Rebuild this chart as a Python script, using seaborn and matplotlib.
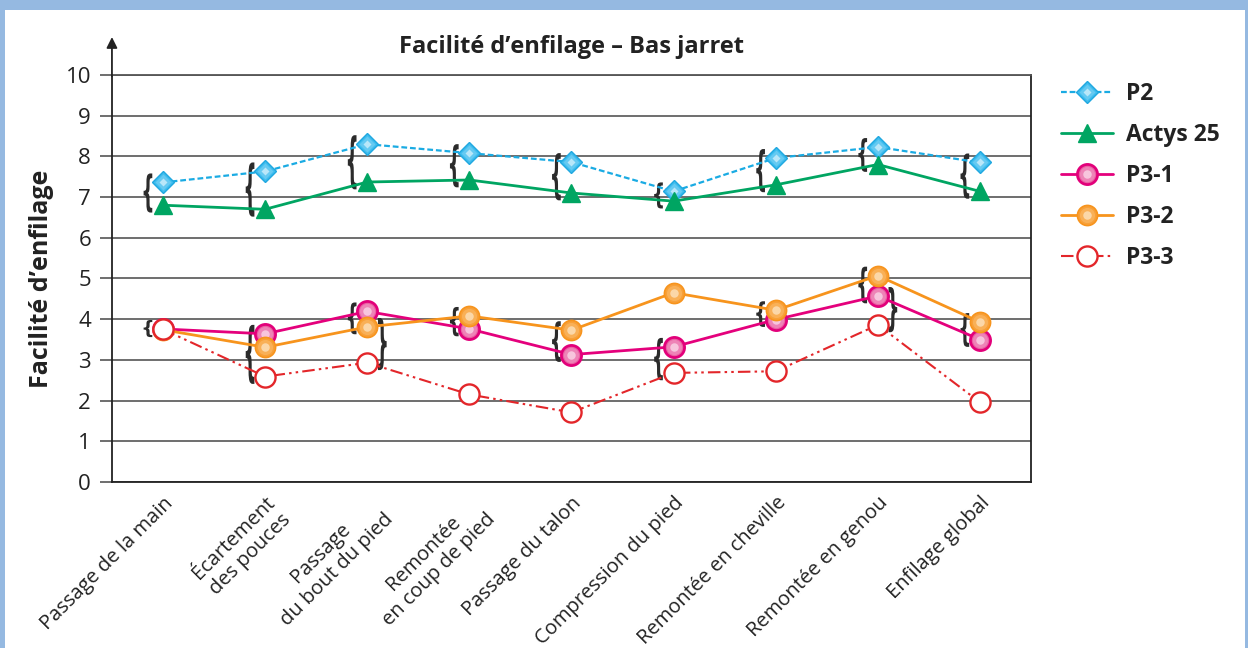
import numpy as np
import pandas as pd
import matplotlib
matplotlib.use("Agg")
import matplotlib.pyplot as plt
import matplotlib.transforms as mtransforms
from matplotlib.textpath import TextPath
from matplotlib.font_manager import FontProperties
from matplotlib.patches import PathPatch, Rectangle
from matplotlib.lines import Line2D
import seaborn as sns

# --- data ---
categories = ["Passage de la main", "Écartement\ndes pouces", "Passage\ndu bout du pied",
              "Remontée\nen coup de pied", "Passage du talon", "Compression du pied",
              "Remontée en cheville", "Remontée en genou", "Enfilage global"]
p2 = [7.36, 7.63, 8.30, 8.08, 7.86, 7.14, 7.96, 8.23, 7.85]
actys25 = [6.80, 6.70, 7.37, 7.42, 7.10, 6.90, 7.30, 7.80, 7.14]
p3_1 = [3.76, 3.64, 4.19, 3.76, 3.13, 3.32, 3.99, 4.57, 3.50]
p3_2 = [3.74, 3.31, 3.81, 4.08, 3.73, 4.65, 4.22, 5.07, 3.93]
p3_3 = [3.75, 2.59, 2.93, 2.15, 1.71, 2.68, 2.72, 3.86, 1.96]
yticks = list(range(0, 11))

# braces marking significant gaps: (category, series a, series b, side)
braces = [
    (0, "P2", "Actys 25", "L"), (0, "P3-1", "P3-2", "L"),
    (1, "P2", "Actys 25", "L"), (1, "P3-1", "P3-3", "L"),
    (2, "P2", "Actys 25", "L"), (2, "P3-1", "P3-2", "L"), (2, "P3-2", "P3-3", "R"),
    (3, "P2", "Actys 25", "L"), (3, "P3-2", "P3-1", "L"),
    (4, "P2", "Actys 25", "L"), (4, "P3-2", "P3-1", "L"),
    (5, "P2", "Actys 25", "L"), (5, "P3-1", "P3-3", "L"),
    (6, "P2", "Actys 25", "L"), (6, "P3-2", "P3-1", "L"),
    (7, "P2", "Actys 25", "L"), (7, "P3-2", "P3-1", "L"), (7, "P3-1", "P3-3", "R"),
    (8, "P2", "Actys 25", "L"), (8, "P3-2", "P3-1", "L"),
]

series = {"P2": p2, "Actys 25": actys25, "P3-1": p3_1, "P3-2": p3_2, "P3-3": p3_3}

# hl: list of (colour, size fraction, alpha) layers faking the glossy gradient
styles = {
    "P2": dict(color="#1AABE3", ls=(0, (2.6, 1.3)), lw=1.6, marker="D", ms=11.5,
               mfc="#3FBDEE", mec="#20A8E0", mew=1.0,
               hl=[("#7FD3F5", 0.7, 0.6), ("#DDF4FD", 0.38, 0.7)]),
    "Actys 25": dict(color="#00A562", ls="-", lw=2.0, marker="^", ms=13.5,
                     mfc="#00A562", mec="#00A562", mew=1.0, hl=[]),
    "P3-1": dict(color="#E4007C", ls="-", lw=2.0, marker="o", ms=14.5,
                 mfc="#EA62A4", mec="#E2007A", mew=2.0,
                 hl=[("#F19AC4", 0.75, 0.6), ("#FBE2EE", 0.42, 0.7)]),
    "P3-2": dict(color="#F7941D", ls="-", lw=2.0, marker="o", ms=14.5,
                 mfc="#F8A038", mec="#F7941D", mew=1.2,
                 hl=[("#FABC6C", 0.75, 0.6), ("#FDE8CC", 0.42, 0.7)]),
    "P3-3": dict(color="#E3262A", ls=(0, (6, 2, 1.2, 2, 1.2, 2)), lw=1.5, marker="o", ms=14.5,
                 mfc="white", mec="#E3262A", mew=1.7, hl=[]),
}

sns.set_theme(style="white")
plt.rcParams["font.family"] = ["Open Sans", "DejaVu Sans"]

fig = plt.figure(figsize=(12.48, 6.48), dpi=100)
fig.patch.set_facecolor("#95B9E1")
fig.add_artist(Rectangle((5 / 1248, 0), 1240 / 1248, 638 / 648, transform=fig.transFigure,
                         facecolor="white", edgecolor="none", zorder=-5))
ax = fig.add_axes([0.0897, 0.2562, 0.7364, 0.6281])
ax.set_facecolor("none")

pos = np.arange(len(categories))
handles = []
for i, (name, vals) in enumerate(series.items()):
    st = styles[name]
    df = pd.DataFrame({"x": pos, "y": vals})
    sns.lineplot(data=df, x="x", y="y", ax=ax, color=st["color"], linestyle=st["ls"],
                 linewidth=st["lw"], marker=st["marker"], markersize=st["ms"],
                 markerfacecolor=st["mfc"], markeredgecolor=st["mec"],
                 markeredgewidth=st["mew"], label=name, zorder=5 + i)
    h = [ax.get_lines()[-1]]
    for k, (c, frac, a) in enumerate(st["hl"]):
        ax.plot(pos, vals, linestyle="none", marker=st["marker"], markersize=st["ms"] * frac,
                markerfacecolor=c, markeredgecolor="none", alpha=a, zorder=5.3 + i + 0.1 * k)
        h.append(Line2D([], [], linestyle="none", marker=st["marker"],
                        markersize=st["ms"] * frac, markerfacecolor=c,
                        markeredgecolor="none", alpha=a))
    handles.append(tuple(h))
if ax.get_legend():
    ax.get_legend().remove()

brace_font = FontProperties(family="DejaVu Sans", weight="bold")


def draw_brace(x, lo, hi, side):
    # a "{" or "}" glyph stretched to span lo..hi
    glyph = TextPath((0, 0), "{" if side == "L" else "}", size=1, prop=brace_font)
    ext = glyph.get_extents()
    w = 0.085
    x0 = x - 0.105 - w if side == "L" else x + 0.105
    tr = (mtransforms.Affine2D().translate(-ext.x0, -ext.y0)
          .scale(w / ext.width, (hi - lo) / ext.height).translate(x0, lo))
    ax.add_patch(PathPatch(tr.transform_path(glyph), facecolor="#2b2b2b",
                           edgecolor="none", zorder=4))


for cat, a, b, side in braces:
    va, vb = series[a][cat], series[b][cat]
    draw_brace(cat, min(va, vb) - 0.18, max(va, vb) + 0.22, side)

ax.set_xlim(-0.5, len(categories) - 0.5)
ax.set_ylim(0, 10)
ax.set_yticks(yticks)
ax.set_yticklabels([str(t) for t in yticks], fontsize=16, color="#222222")
ax.yaxis.grid(True, color="#555555", linewidth=1.2)
ax.xaxis.grid(False)
ax.set_axisbelow(True)

ax.set_xticks(pos)
ax.set_xticklabels(categories, rotation=45, ha="right", va="top", rotation_mode="anchor",
                   multialignment="center", fontsize=14.5, color="#222222")
ax.set_xticks(np.arange(-0.5, len(categories), 1.0), minor=True)
ax.tick_params(axis="x", which="major", length=0, pad=8)
ax.tick_params(axis="x", which="minor", length=10, width=1.2, color="#555555", direction="out")
ax.tick_params(axis="y", length=9, width=1.2, color="#555555", direction="out", pad=6, left=True)

for sp in ["left", "bottom", "right", "top"]:
    ax.spines[sp].set_visible(True)
    ax.spines[sp].set_color("#222222")
    ax.spines[sp].set_linewidth(1.3)
ax.spines["top"].set_color("#555555")

ax.annotate("", xy=(0, 1.1), xytext=(0, 0.99), xycoords="axes fraction",
            arrowprops=dict(arrowstyle="-|>", color="#222222", lw=1.3, mutation_scale=16),
            annotation_clip=False)

ax.set_xlabel("")
ax.set_ylabel("Facilité d’enfilage", fontsize=18, fontweight="bold", color="#222222")
ax.yaxis.set_label_coords(-0.063, 0.5)
fig.text(0.458, 1 - 47 / 648, "Facilité d’enfilage – Bas jarret", ha="center", va="center",
         fontsize=17, fontweight="bold", color="#222222")

fig.legend(handles, list(series.keys()), loc="upper left",
           bbox_to_anchor=(1040 / 1248, 1 - 61 / 648), frameon=False,
           prop=dict(size=16.5, weight="bold"), labelspacing=0.75, handlelength=2.3,
           handletextpad=0.55, labelcolor="#222222")

fig.savefig("out.png", dpi=100, facecolor=fig.get_facecolor())
